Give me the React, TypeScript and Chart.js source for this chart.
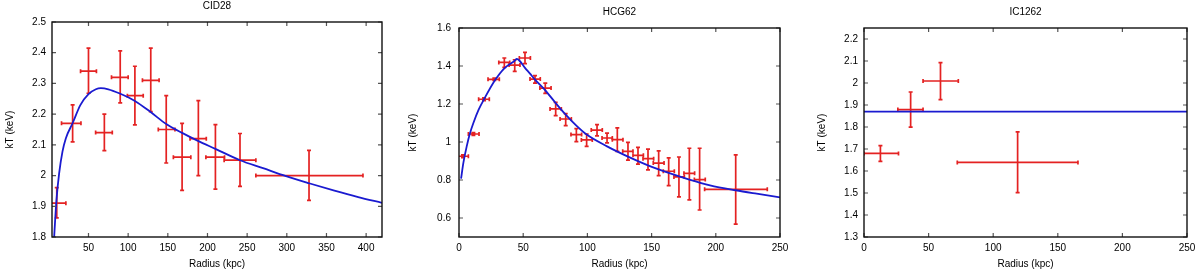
import { useEffect, useRef } from "react";
import { Chart, registerables } from "chart.js";

Chart.register(...registerables);

// ---------- CID28 ----------
const cidR = [10, 30, 50, 70, 90, 108.5, 128.5, 148, 168, 188.5, 210, 241, 328];
const cidRLo = [0, 16, 40, 59, 79, 99, 118, 138, 157, 178, 198, 221, 261];
const cidRHi = [21.5, 40.5, 60, 80, 100, 119, 139, 159, 179, 198.5, 221.5, 261, 396];
const cidT = [1.91, 2.17, 2.34, 2.14, 2.32, 2.26, 2.31, 2.15, 2.06, 2.12, 2.06, 2.05, 2.0];
const cidTLo = [1.862, 2.11, 2.268, 2.081, 2.237, 2.165, 2.208, 2.041, 1.952, 2.0, 1.956, 1.965, 1.919];
const cidTHi = [1.961, 2.23, 2.415, 2.2, 2.406, 2.356, 2.415, 2.26, 2.17, 2.244, 2.166, 2.137, 2.082];
const cidFitR = [6.7, 9.6, 13, 17.2, 21.4, 30.2, 39.9, 50, 59.3, 65.6, 75, 88.7, 108.5, 128.7, 148, 168, 188, 210, 241, 270, 299, 328, 360, 390, 420];
const cidFitT = [1.8, 1.92, 2.007, 2.078, 2.121, 2.172, 2.23, 2.265, 2.281, 2.2845, 2.281, 2.268, 2.243, 2.206, 2.168, 2.139, 2.113, 2.087, 2.05, 2.024, 1.998, 1.975, 1.951, 1.93, 1.911];
const cidXTicks = [50, 100, 150, 200, 250, 300, 350, 400];
const cidYTicks = [1.8, 1.9, 2.0, 2.1, 2.2, 2.3, 2.4, 2.5];

// ---------- HCG62 ----------
const hcgR = [3.1, 11.2, 19.5, 27.5, 35.3, 43.4, 51.4, 59.2, 67.2, 75.3, 83.1, 91.4, 99.4, 107.5, 115.3, 123.3, 131.6, 139.4, 147.2, 155.5, 163.3, 171.3, 179.4, 187.4, 215.5];
const hcgRLo = [-1.3, 7.3, 15.3, 22.6, 31, 39, 47, 55.3, 63, 70.9, 78.7, 87.2, 95.3, 103, 111.4, 119.4, 127.5, 135.5, 143.3, 151.3, 159.1, 167.4, 175.2, 183.3, 191.3];
const hcgRHi = [7.3, 15.6, 23.6, 31.4, 39.5, 47.5, 55.6, 63.3, 71.7, 79.7, 87.5, 95.5, 103.8, 111.6, 119.4, 127.7, 135.5, 143.6, 151.6, 159.7, 167.7, 175.5, 183.5, 191.8, 240.1];
const hcgT = [0.925, 1.042, 1.225, 1.33, 1.419, 1.405, 1.442, 1.331, 1.284, 1.174, 1.121, 1.039, 1.011, 1.063, 1.021, 1.012, 0.951, 0.93, 0.912, 0.889, 0.846, 0.816, 0.835, 0.802, 0.751];
const hcgTLo = [0.918, 1.035, 1.218, 1.324, 1.393, 1.372, 1.412, 1.31, 1.256, 1.139, 1.086, 1.002, 0.977, 1.032, 0.995, 0.951, 0.905, 0.884, 0.853, 0.823, 0.77, 0.711, 0.695, 0.642, 0.568];
const hcgTHi = [0.932, 1.049, 1.232, 1.336, 1.442, 1.433, 1.472, 1.349, 1.31, 1.209, 1.149, 1.07, 1.042, 1.091, 1.047, 1.074, 0.998, 0.972, 0.963, 0.953, 0.916, 0.921, 0.967, 0.967, 0.932];
const hcgFitR = [1.6, 3.4, 6, 8.6, 11.2, 15.3, 19.5, 27.5, 35.3, 43.4, 45, 47.5, 51.4, 55.3, 59.2, 67.2, 75.3, 83.1, 91.4, 99.4, 115.3, 131.6, 147.2, 163.3, 179.4, 195.5, 215.5, 231.8, 250];
const hcgFitT = [0.807, 0.89, 0.977, 1.047, 1.1, 1.17, 1.225, 1.32, 1.388, 1.428, 1.437, 1.425, 1.39, 1.36, 1.328, 1.272, 1.205, 1.144, 1.086, 1.039, 0.977, 0.923, 0.877, 0.837, 0.802, 0.772, 0.746, 0.728, 0.709];
const hcgXTicks = [0, 50, 100, 150, 200, 250];
const hcgYTicks = [0.6, 0.8, 1.0, 1.2, 1.4, 1.6];

// ---------- IC1262 ----------
const icR = [12.7, 36.1, 59.2, 118.9];
const icRLo = [0, 26.2, 45.7, 72.2];
const icRHi = [26.7, 45.7, 73, 165.6];
const icT = [1.68, 1.879, 2.009, 1.639];
const icTLo = [1.644, 1.799, 1.924, 1.502];
const icTHi = [1.715, 1.959, 2.093, 1.778];
const icFitR = [0, 250];
const icFitT = [1.87, 1.87];
const icXTicks = [0, 50, 100, 150, 200, 250];
const icYTicks = [1.3, 1.4, 1.5, 1.6, 1.7, 1.8, 1.9, 2.0, 2.1, 2.2];

const FONT = "'Liberation Sans', Arial, sans-serif";
const RED = "#e42222";
const BLUE = "#1a1ad0";

type Panel = {
  title: string;
  canvasLeft: number;
  areaL: number;
  areaR: number;
  areaT: number;
  areaB: number;
  titleY: number;
  yTickPad: number;
  yTitlePad: number;
  xMin: number;
  xMax: number;
  yMin: number;
  yMax: number;
  xTicks: number[];
  yTicks: number[];
  r: number[];
  rLo: number[];
  rHi: number[];
  t: number[];
  tLo: number[];
  tHi: number[];
  fitR: number[];
  fitT: number[];
  tension: boolean;
};

const panels: Panel[] = [
  {
    title: "CID28", canvasLeft: 0, areaL: 52, areaR: 382, areaT: 22, areaB: 237, titleY: 6,
    yTickPad: 6, yTitlePad: 4,
    xMin: 4, xMax: 420, yMin: 1.8, yMax: 2.5, xTicks: cidXTicks, yTicks: cidYTicks,
    r: cidR, rLo: cidRLo, rHi: cidRHi, t: cidT, tLo: cidTLo, tHi: cidTHi,
    fitR: cidFitR, fitT: cidFitT, tension: true,
  },
  {
    title: "HCG62", canvasLeft: 400, areaL: 59, areaR: 380, areaT: 28, areaB: 237, titleY: 12,
    yTickPad: 8, yTitlePad: 7,
    xMin: 0, xMax: 250, yMin: 0.5, yMax: 1.6, xTicks: hcgXTicks, yTicks: hcgYTicks,
    r: hcgR, rLo: hcgRLo, rHi: hcgRHi, t: hcgT, tLo: hcgTLo, tHi: hcgTHi,
    fitR: hcgFitR, fitT: hcgFitT, tension: true,
  },
  {
    title: "IC1262", canvasLeft: 800, areaL: 64, areaR: 387, areaT: 28, areaB: 237, titleY: 12,
    yTickPad: 6, yTitlePad: 16,
    xMin: 0, xMax: 250, yMin: 1.3, yMax: 2.25, xTicks: icXTicks, yTicks: icYTicks,
    r: icR, rLo: icRLo, rHi: icRHi, t: icT, tLo: icTLo, tHi: icTHi,
    fitR: icFitR, fitT: icFitT, tension: false,
  },
];

const W = 400;
const H = 273;

function fmt(v: number | string) {
  const n = Math.round(Number(v) * 100) / 100;
  return String(n);
}

function makeChart(canvas: HTMLCanvasElement, p: Panel) {
  const errorBars = {
    id: "errorBars",
    beforeDatasetsDraw(chart: any) {
      const { ctx, chartArea: a, scales } = chart;
      const xs = scales.x;
      const ys = scales.y;
      ctx.save();
      ctx.beginPath();
      ctx.rect(a.left, a.top, a.right - a.left, a.bottom - a.top);
      ctx.clip();
      ctx.strokeStyle = RED;
      ctx.lineWidth = 1.7;
      const cap = 2;
      for (let i = 0; i < p.r.length; i++) {
        const cx = xs.getPixelForValue(p.r[i]);
        const cy = ys.getPixelForValue(p.t[i]);
        const x0 = xs.getPixelForValue(p.rLo[i]);
        const x1 = xs.getPixelForValue(p.rHi[i]);
        const y0 = ys.getPixelForValue(p.tLo[i]);
        const y1 = ys.getPixelForValue(p.tHi[i]);
        ctx.beginPath();
        ctx.moveTo(x0, cy);
        ctx.lineTo(x1, cy);
        ctx.moveTo(x0, cy - cap);
        ctx.lineTo(x0, cy + cap);
        ctx.moveTo(x1, cy - cap);
        ctx.lineTo(x1, cy + cap);
        ctx.moveTo(cx, y0);
        ctx.lineTo(cx, y1);
        ctx.moveTo(cx - cap, y0);
        ctx.lineTo(cx + cap, y0);
        ctx.moveTo(cx - cap, y1);
        ctx.lineTo(cx + cap, y1);
        ctx.stroke();
      }
      ctx.restore();
    },
  };

  const frame = {
    id: "frame",
    afterDraw(chart: any) {
      const { ctx, chartArea: a, scales } = chart;
      const L = 4;
      ctx.save();
      ctx.strokeStyle = "#555";
      ctx.lineWidth = 1.2;
      ctx.beginPath();
      for (const v of p.xTicks) {
        const px = scales.x.getPixelForValue(v);
        ctx.moveTo(px, a.bottom);
        ctx.lineTo(px, a.bottom - L);
        ctx.moveTo(px, a.top);
        ctx.lineTo(px, a.top + L);
      }
      for (const v of p.yTicks) {
        const py = scales.y.getPixelForValue(v);
        ctx.moveTo(a.left, py);
        ctx.lineTo(a.left + L, py);
        ctx.moveTo(a.right, py);
        ctx.lineTo(a.right - L, py);
      }
      ctx.stroke();
      ctx.strokeStyle = "#111";
      ctx.lineWidth = 1.4;
      ctx.strokeRect(a.left, a.top, a.right - a.left, a.bottom - a.top);
      ctx.fillStyle = "#000";
      ctx.font = `10px ${FONT}`;
      ctx.textAlign = "center";
      ctx.textBaseline = "middle";
      ctx.fillText(p.title, (a.left + a.right) / 2, p.titleY);
      ctx.restore();
    },
  };

  const font = { family: FONT, size: 10 };

  return new Chart(canvas, {
    type: "line",
    data: {
      datasets: [
        {
          data: p.fitR.map((x, i) => ({ x, y: p.fitT[i] })),
          borderColor: BLUE,
          borderWidth: 1.8,
          pointRadius: 0,
          fill: false,
          cubicInterpolationMode: p.tension ? "monotone" : "default",
          tension: 0,
        },
      ],
    },
    options: {
      animation: false,
      responsive: false,
      events: [],
      layout: {
        padding: { left: 0, top: p.areaT, right: W - p.areaR, bottom: 0 },
      },
      plugins: {
        legend: { display: false },
        tooltip: { enabled: false },
        title: { display: false },
      },
      scales: {
        x: {
          type: "linear",
          min: p.xMin,
          max: p.xMax,
          grid: { display: false, drawTicks: false },
          border: { display: false },
          ticks: { font, color: "#000", padding: 5, autoSkip: false, maxRotation: 0, callback: (v: any) => fmt(v) },
          title: { display: true, text: "Radius (kpc)", font, color: "#000", padding: { top: 0, bottom: 2.5 } },
          afterBuildTicks: (s: any) => {
            s.ticks = p.xTicks.map((v) => ({ value: v }));
          },
          afterFit: (s: any) => {
            s.height = H - p.areaB;
            s.paddingLeft = 0;
            s.paddingRight = 0;
            s.paddingTop = 0;
            s.paddingBottom = 0;
          },
        },
        y: {
          type: "linear",
          min: p.yMin,
          max: p.yMax,
          grid: { display: false, drawTicks: false },
          border: { display: false },
          ticks: { font, color: "#000", padding: p.yTickPad, autoSkip: false, callback: (v: any) => fmt(v) },
          title: { display: true, text: "kT (keV)", font, color: "#000", padding: { top: p.yTitlePad, bottom: 0 } },
          afterBuildTicks: (s: any) => {
            s.ticks = p.yTicks.map((v) => ({ value: v }));
          },
          afterFit: (s: any) => {
            s.width = p.areaL;
            s.paddingLeft = 0;
            s.paddingRight = 0;
            s.paddingTop = 0;
            s.paddingBottom = 0;
          },
        },
      },
    } as any,
    plugins: [errorBars, frame],
  } as any);
}

function PanelChart({ p }: { p: Panel }) {
  const ref = useRef<HTMLCanvasElement>(null);
  useEffect(() => {
    if (!ref.current) return;
    const chart = makeChart(ref.current, p);
    return () => chart.destroy();
  }, [p]);
  return (
    <canvas
      ref={ref}
      width={W}
      height={H}
      style={{ position: "absolute", left: p.canvasLeft, top: 0, width: W, height: H, display: "block" }}
    />
  );
}

export default function App() {
  return (
    <div
      style={{
        position: "fixed",
        left: 0,
        top: 0,
        width: 1200,
        height: 273,
        background: "#fff",
        overflow: "hidden",
      }}
    >
      {panels.map((p) => (
        <PanelChart key={p.title} p={p} />
      ))}
    </div>
  );
}
